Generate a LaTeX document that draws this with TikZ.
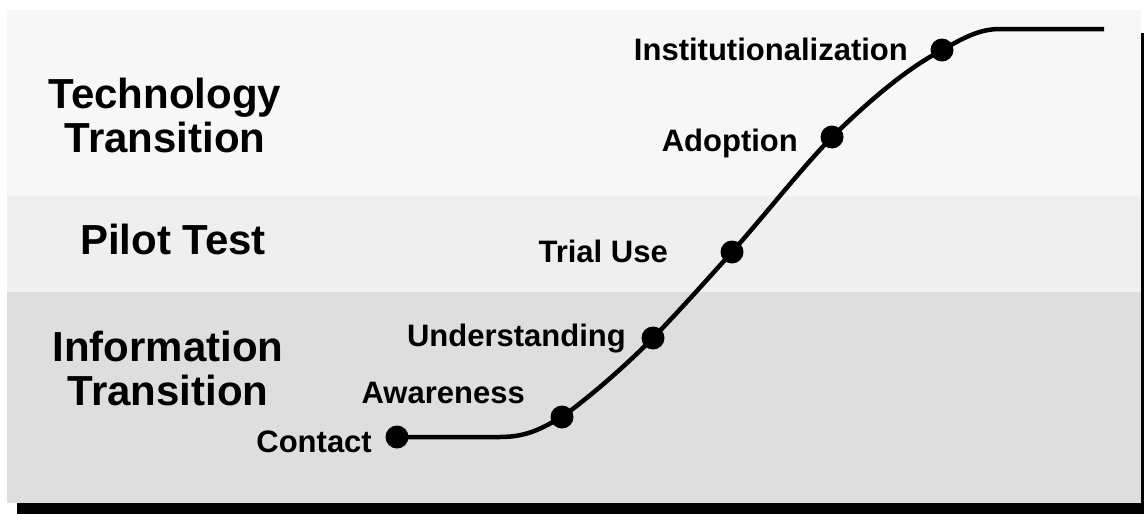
\documentclass[tikz,border=0pt]{standalone}
\usepackage{fontspec}
\setmainfont{Liberation Sans}
\definecolor{bandtop}{HTML}{F7F7F7}
\definecolor{bandmid}{HTML}{EFEFEF}
\definecolor{bandlow}{HTML}{DEDEDE}
\begin{document}
\begin{tikzpicture}[
      x=1pt, y=-1pt,
      phase/.style={font=\fontsize{42}{44}\selectfont\bfseries, align=center, inner sep=0pt},
      stage/.style={font=\fontsize{31}{34}\selectfont\bfseries, anchor=base east, inner sep=0pt},
      dot/.style={circle, fill=black, inner sep=0pt, minimum size=23pt},
    ]

    \fill[white] (0,0) rectangle (1144,514);
    \useasboundingbox (0,0) rectangle (1144,514);

    \fill[black] (17,33) rectangle (1144,514);
    \fill[bandtop] (7,10) rectangle (1141,196);
    \fill[bandmid] (7,196) rectangle (1141,292);
    \fill[bandlow] (7,292) rectangle (1141,503);

    \node[phase] (techtrans) at (165,115) {Technology\\Transition};
    \node[phase, anchor=base] (pilot) at (173,254) {Pilot Test};
    \node[phase] (infotrans) at (168,368) {Information\\Transition};

    \coordinate (contact) at (397,437);
    \coordinate (awareness) at (562,417);
    \coordinate (understanding) at (653,338);
    \coordinate (trial) at (732,252);
    \coordinate (adoption) at (832,137);
    \coordinate (institution) at (942,50);
    \coordinate (plateau) at (1104,29);

    \draw[line width=4.5pt] (contact) -- (500,437)
      .. controls (530,437) and (545,426) .. (awareness)
      .. controls (592,395) and (623,368) .. (understanding)
      .. controls (680,310) and (705,282) .. (trial)
      .. controls (765,215) and (800,170) .. (adoption)
      .. controls (870,100) and (905,70) .. (institution)
      .. controls (965,37) and (980,29) .. (1000,29) -- (plateau);

    \node[dot] (d-contact) at (contact) {};
    \node[dot] (d-awareness) at (awareness) {};
    \node[dot] (d-understanding) at (understanding) {};
    \node[dot] (d-trial) at (trial) {};
    \node[dot] (d-adoption) at (adoption) {};
    \node[dot] (d-institution) at (institution) {};

    \node[stage] (l-contact) at (372,452) {Contact};
    \node[stage] (l-awareness) at (525,403) {Awareness};
    \node[stage] (l-understanding) at (626,346) {Understanding};
    \node[stage] (l-trial) at (668,262) {Trial Use};
    \node[stage] (l-adoption) at (798,151) {Adoption};
    \node[stage] (l-institution) at (908,60) {Institutionalization};

  \end{tikzpicture}
\end{document}
